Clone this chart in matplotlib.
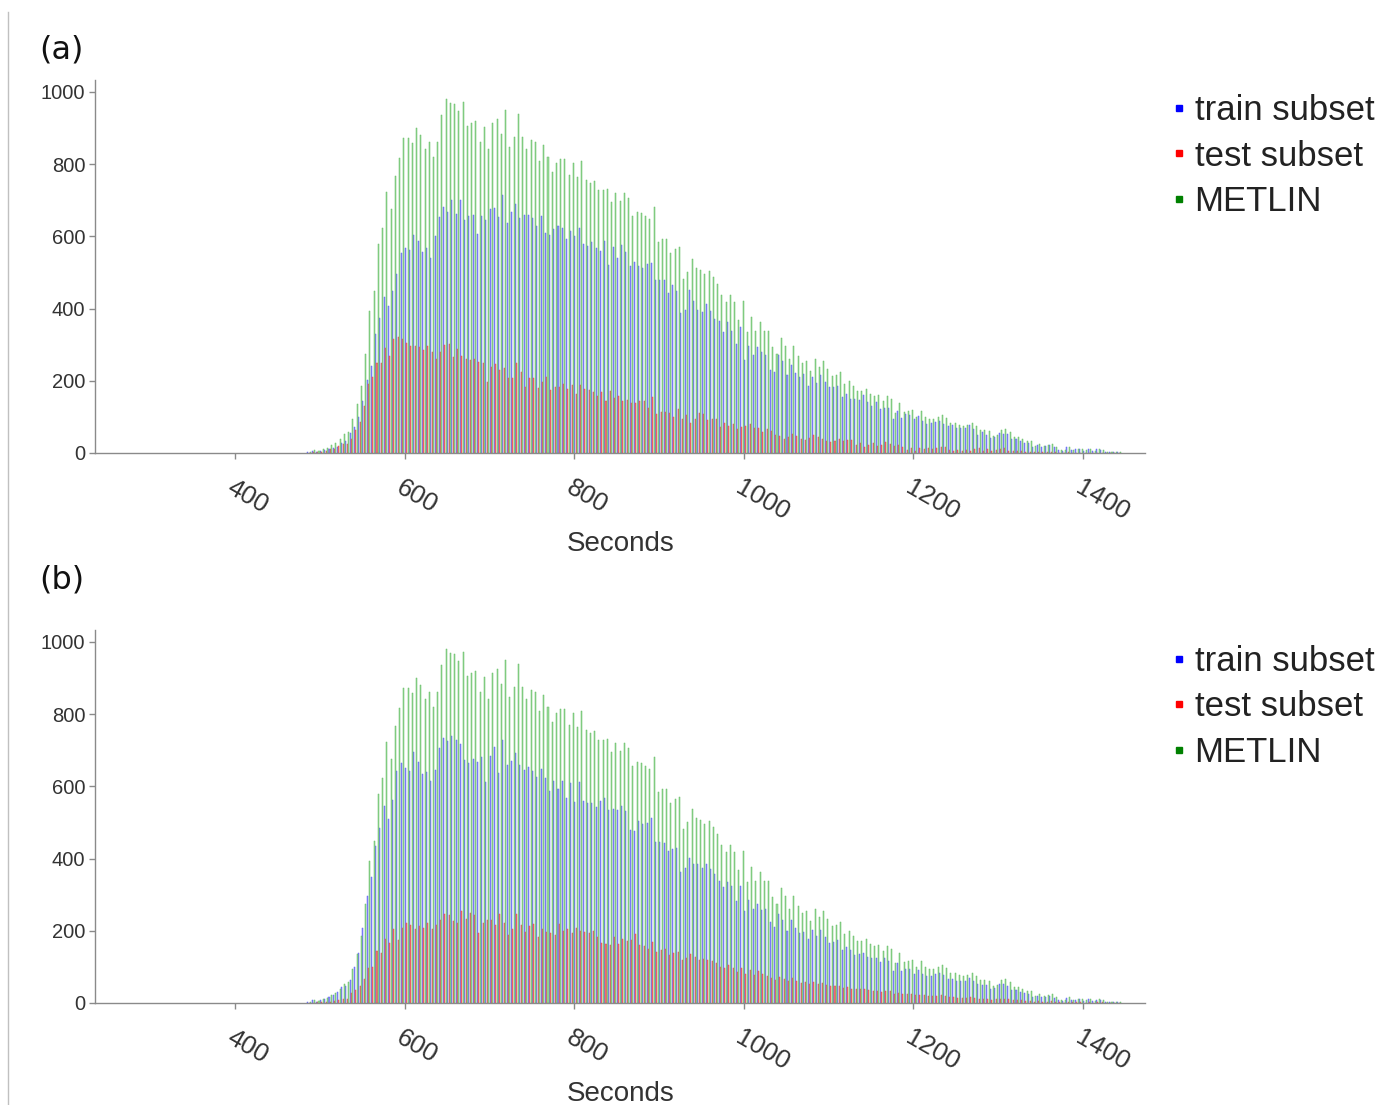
import numpy as np
import matplotlib
matplotlib.use("Agg")
import matplotlib.pyplot as plt
from matplotlib.lines import Line2D

# ---------------- data (5-second bins, first bin starts at 485 s) ----------------
BIN_START = 485
BIN_WIDTH = 5

metlin = [
    3, 8, 6, 10, 14, 22, 27, 38, 54, 57, 94, 135,
    186, 274, 393, 450, 579, 624, 724, 675, 767, 817, 872, 871,
    858, 900, 881, 843, 862, 820, 862, 935, 981, 969, 967, 948,
    972, 905, 913, 920, 860, 904, 842, 914, 925, 883, 949, 847,
    876, 938, 875, 842, 866, 861, 809, 853, 821, 779, 804, 813,
    814, 771, 802, 763, 810, 756, 749, 754, 727, 727, 731, 695,
    721, 698, 721, 705, 655, 667, 664, 655, 648, 681, 585, 594,
    594, 554, 564, 570, 482, 500, 536, 513, 506, 497, 503, 487,
    467, 438, 419, 438, 419, 368, 421, 334, 376, 339, 363, 338,
    337, 293, 274, 318, 296, 259, 297, 270, 249, 255, 228, 260,
    237, 256, 232, 212, 216, 223, 190, 199, 186, 172, 173, 177,
    163, 158, 160, 144, 157, 149, 112, 139, 113, 117, 118, 100,
    115, 101, 94, 94, 99, 105, 97, 84, 84, 77, 75, 77,
    84, 76, 64, 63, 60, 48, 51, 65, 66, 58, 45, 45,
    38, 33, 32, 20, 25, 20, 21, 25, 18, 9, 7, 18,
    9, 11, 12, 7, 12, 6, 11, 9, 3, 3, 2, 2,
]

train_a = [
    2, 5, 4, 6, 8, 12, 15, 18, 29, 33, 55, 71,
    99, 144, 202, 240, 330, 374, 432, 406, 450, 495, 555, 567,
    563, 605, 587, 558, 567, 539, 602, 654, 682, 668, 701, 661,
    702, 645, 656, 660, 607, 656, 644, 675, 678, 653, 714, 638,
    667, 690, 651, 658, 659, 652, 629, 656, 610, 605, 620, 629,
    623, 593, 614, 600, 623, 580, 574, 585, 569, 559, 587, 522,
    570, 540, 576, 557, 517, 528, 519, 512, 523, 526, 478, 480,
    480, 442, 464, 449, 389, 395, 452, 420, 396, 390, 412, 394,
    372, 365, 335, 362, 339, 302, 348, 258, 296, 271, 293, 280,
    271, 231, 224, 271, 256, 216, 245, 222, 211, 219, 186, 211,
    194, 217, 198, 182, 183, 185, 156, 163, 150, 150, 146, 160,
    141, 131, 141, 122, 126, 125, 93, 117, 97, 109, 105, 94,
    102, 89, 79, 82, 85, 89, 81, 76, 78, 69, 69, 69,
    78, 66, 50, 57, 50, 42, 43, 55, 53, 52, 40, 39,
    33, 29, 28, 17, 22, 17, 19, 22, 16, 8, 6, 16,
    8, 10, 11, 6, 11, 6, 10, 8, 3, 3, 2, 2,
]

test_a = [
    1, 3, 2, 4, 6, 10, 12, 20, 25, 24, 39, 64,
    87, 130, 191, 210, 249, 250, 292, 269, 317, 322, 317, 304,
    295, 295, 294, 285, 295, 281, 260, 281, 299, 301, 266, 287,
    270, 260, 257, 260, 253, 248, 198, 239, 247, 230, 235, 209,
    209, 248, 224, 184, 207, 209, 180, 197, 211, 174, 184, 184,
    191, 178, 188, 163, 187, 176, 175, 169, 158, 168, 144, 173,
    151, 158, 145, 148, 138, 139, 145, 143, 125, 155, 107, 114,
    114, 112, 100, 121, 93, 105, 84, 93, 110, 107, 91, 93,
    95, 73, 84, 76, 80, 66, 73, 76, 80, 68, 70, 58,
    66, 62, 50, 47, 40, 43, 52, 48, 38, 36, 42, 49,
    43, 39, 34, 30, 33, 38, 34, 36, 36, 22, 27, 17,
    22, 27, 19, 22, 31, 24, 19, 22, 16, 8, 13, 6,
    13, 12, 15, 12, 14, 16, 16, 8, 6, 8, 6, 8,
    6, 10, 14, 6, 10, 6, 8, 10, 13, 6, 5, 6,
    5, 4, 4, 3, 3, 3, 2, 3, 2, 1, 1, 2,
    1, 1, 1, 1, 1, 0, 1, 1, 0, 0, 0, 0,
]

train_b = [
    3, 7, 4, 8, 11, 18, 21, 30, 44, 47, 65, 99,
    139, 207, 295, 349, 435, 485, 546, 510, 563, 642, 665, 650,
    642, 696, 668, 634, 640, 616, 646, 705, 734, 725, 740, 727,
    717, 672, 665, 676, 667, 682, 612, 684, 709, 637, 728, 659,
    671, 692, 659, 644, 653, 643, 625, 648, 623, 586, 616, 594,
    615, 567, 609, 556, 611, 560, 554, 555, 543, 560, 568, 534,
    537, 535, 545, 533, 480, 476, 503, 497, 498, 511, 445, 446,
    444, 422, 426, 428, 364, 375, 401, 385, 386, 375, 385, 372,
    357, 338, 321, 334, 323, 283, 323, 254, 284, 261, 275, 258,
    261, 225, 210, 246, 230, 199, 229, 208, 193, 197, 176, 202,
    185, 201, 182, 166, 168, 175, 148, 155, 146, 134, 135, 139,
    128, 124, 126, 114, 124, 117, 88, 111, 89, 93, 94, 79,
    92, 80, 75, 75, 79, 84, 78, 67, 67, 62, 60, 62,
    68, 62, 52, 51, 49, 39, 41, 53, 54, 48, 37, 37,
    31, 27, 26, 16, 20, 16, 17, 20, 15, 7, 6, 15,
    7, 9, 10, 6, 10, 5, 9, 7, 2, 3, 2, 2,
]

test_b = [
    0, 1, 2, 2, 3, 4, 6, 8, 10, 10, 29, 36,
    47, 67, 98, 101, 144, 139, 178, 165, 204, 175, 207, 221,
    216, 204, 213, 209, 222, 204, 216, 230, 247, 244, 227, 221,
    255, 233, 248, 244, 193, 222, 230, 230, 216, 246, 221, 188,
    205, 246, 216, 198, 213, 218, 184, 205, 198, 193, 188, 219,
    199, 204, 193, 207, 199, 196, 195, 199, 184, 167, 163, 161,
    184, 163, 176, 172, 175, 191, 161, 158, 150, 170, 140, 148,
    150, 132, 138, 142, 118, 125, 135, 128, 120, 122, 118, 115,
    110, 100, 98, 104, 96, 85, 98, 80, 92, 78, 88, 80,
    76, 68, 64, 72, 66, 60, 68, 62, 56, 58, 52, 58,
    52, 55, 50, 46, 48, 48, 42, 44, 40, 38, 38, 38,
    35, 34, 34, 30, 33, 32, 24, 28, 24, 24, 24, 21,
    23, 21, 19, 19, 20, 21, 19, 17, 17, 15, 15, 15,
    16, 14, 12, 12, 11, 9, 10, 12, 12, 10, 8, 8,
    7, 6, 6, 4, 5, 4, 4, 5, 3, 2, 1, 3,
    2, 2, 2, 1, 2, 1, 2, 2, 1, 0, 0, 0,
]

x_ticks = [400, 600, 800, 1000, 1200, 1400]
y_ticks = [0, 200, 400, 600, 800, 1000]
series_labels = ["train subset", "test subset", "METLIN"]
panel_labels = ["(a)", "(b)"]
x_label = "Seconds"

# ---------------- styling ----------------
W, H = 1379, 1105
plt.rcParams["font.family"] = ["Liberation Sans", "DejaVu Sans"]
fig = plt.figure(figsize=(W / 100, H / 100), dpi=100)

TXT = "#333333"
AX_COL = "#8a8a8a"
styles = [
    dict(face="#9092fa", edge="#5e60f6"),   # train
    dict(face="#f47474", edge="#ea4c4c"),   # test
    dict(face="#9cdc9c", edge="#62ba62"),   # METLIN
]
offsets = [-1.6, 0.0, 1.6]
bar_w = 1.2
legend_colors = ["#0000ff", "#ff0000", "#008000"]

centers = BIN_START + BIN_WIDTH / 2 + BIN_WIDTH * np.arange(len(metlin))

panels = [
    (train_a, test_a, metlin, 453, 50, 544, 94),
    (train_b, test_b, metlin, 1003, 580, 1094, 645),
]

for idx, (tr, te, me, y0px, lab_y, xl_y, leg_y) in enumerate(panels):
    ax = fig.add_axes([95 / W, 1 - y0px / H, 1050 / W, 373 / H])
    for vals, st, off in zip([tr, te, me], styles, offsets):
        ax.bar(centers + off, vals, width=bar_w, color=st["face"],
               edgecolor=st["edge"], linewidth=0.35)
    ax.set_xlim(235, 1473)
    ax.set_ylim(0, 1033)
    for s in ["top", "right"]:
        ax.spines[s].set_visible(False)
    for s in ["left", "bottom"]:
        ax.spines[s].set_color(AX_COL)
        ax.spines[s].set_linewidth(1.0)
    ax.set_yticks(y_ticks)
    ax.set_yticklabels([str(v) for v in y_ticks])
    ax.tick_params(axis="y", length=4, width=1, color=AX_COL,
                   labelsize=14.5, labelcolor=TXT, pad=3)
    ax.set_xticks(x_ticks)
    ax.set_xticklabels([str(v) for v in x_ticks])
    ax.tick_params(axis="x", length=4, width=1, color=AX_COL,
                   labelsize=18.5, labelcolor=TXT, pad=12)
    for lbl in ax.get_xticklabels():
        lbl.set_rotation(-30)
        lbl.set_ha("left")
        lbl.set_va("top")
        lbl.set_rotation_mode("anchor")

    fig.text(621 / W, 1 - xl_y / H, x_label, ha="center", va="center",
             fontsize=20, color=TXT)
    fig.text(39 / W, 1 - lab_y / H, panel_labels[idx], ha="left", va="center",
             fontsize=23, color="#111111", family="DejaVu Sans")

    handles = [Line2D([], [], marker="s", linestyle="", color=c, markersize=5)
               for c in legend_colors]
    ax.legend(handles, series_labels, loc="upper left",
              bbox_to_anchor=(1172 / W, 1 - leg_y / H),
              bbox_transform=fig.transFigure, frameon=False, fontsize=25,
              handlelength=0.4, handletextpad=0.25, labelspacing=0.36,
              borderpad=0, borderaxespad=0, labelcolor="#222222")

fig.add_artist(Line2D([8 / W, 8 / W], [0, 1 - 12 / H], color="#c0c0c0", lw=1))

fig.savefig("out.png", dpi=100, facecolor="white")
